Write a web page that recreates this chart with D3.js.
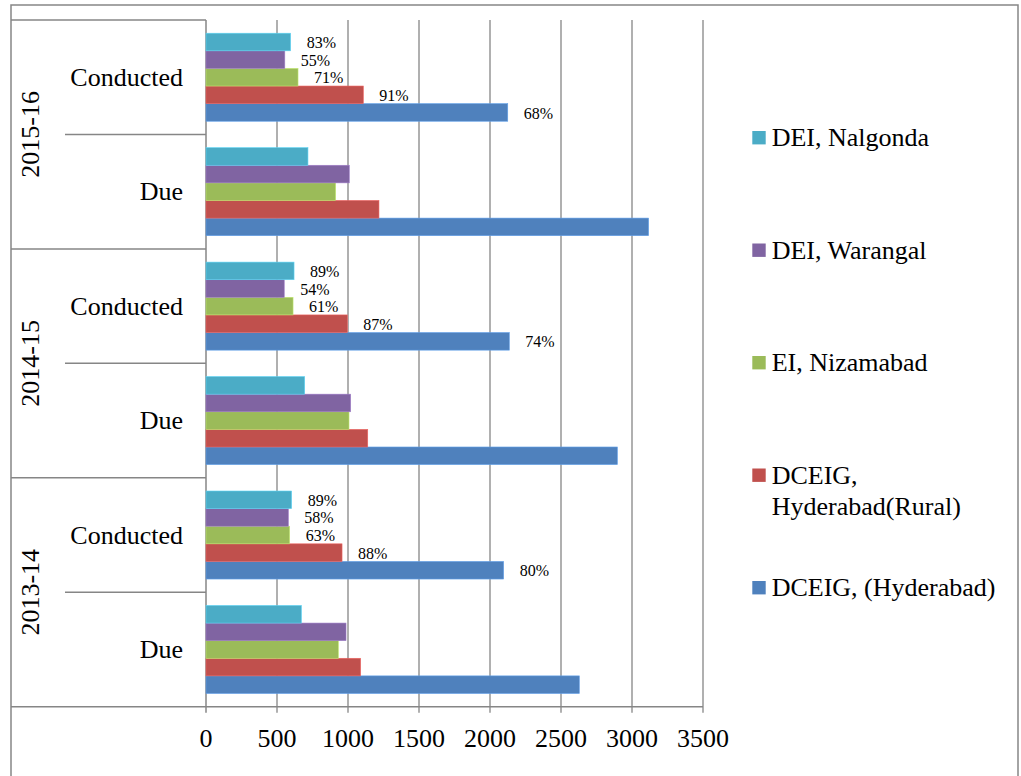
<!DOCTYPE html>
<html>
<head>
<meta charset="utf-8">
<script src="https://cdn.jsdelivr.net/npm/d3@7"></script>
<style>
  html, body { margin: 0; padding: 0; background: #fff; }
  svg { display: block; }
</style>
</head>
<body>
<svg id="chart" width="1021" height="776"></svg>
<script>
// ---- Data ----
const years = ["2013-14", "2014-15", "2015-16"];
const types = ["Due", "Conducted"];
// categories in order (bottom to top as drawn)
const categories = ["2013-14|Due", "2013-14|Conducted", "2014-15|Due", "2014-15|Conducted", "2015-16|Due", "2015-16|Conducted"];
const seriesNames = ["DCEIG, (Hyderabad)", "DCEIG, Hyderabad(Rural)", "EI, Nizamabad", "DEI, Warangal", "DEI, Nalgonda"];
const seriesColors = ["#4F81BD", "#C0504D", "#9BBB59", "#8064A2", "#4BACC6"];
const hyderabad = [2629, 2096, 2897, 2136, 3117, 2125];
const rural     = [1089,  958, 1139,  995, 1218, 1108];
const nizamabad = [ 932,  589, 1007,  613,  913,  648];
const warangal  = [ 986,  580, 1019,  551, 1009,  555];
const nalgonda  = [ 672,  603,  695,  620,  718,  596];
const seriesValues = [hyderabad, rural, nizamabad, warangal, nalgonda];
// percentage labels for the "Conducted" categories
const hyderabadPct = ["", "80%", "", "74%", "", "68%"];
const ruralPct     = ["", "88%", "", "87%", "", "91%"];
const nizamabadPct = ["", "63%", "", "61%", "", "71%"];
const warangalPct  = ["", "58%", "", "54%", "", "55%"];
const nalgondaPct  = ["", "89%", "", "89%", "", "83%"];
const seriesPct = [hyderabadPct, ruralPct, nizamabadPct, warangalPct, nalgondaPct];
const xTicks = [0, 500, 1000, 1500, 2000, 2500, 3000, 3500];

// ---- Layout ----
const FONT = "Liberation Serif";
const svg = d3.select("#chart");
const plotTop = 20, plotBottom = 706.7;
const x0 = 206, x1 = 703;
const boxLeft = 11;
const gridColor = "#868686";

const x = d3.scaleLinear().domain([0, 3500]).range([x0, x1]);
// categories drawn bottom to top
const y = d3.scaleBand().domain(categories).range([plotBottom, plotTop]).padding(0);
const groupH = y.bandwidth() * (5 / 6.5);
const ySeries = d3.scaleBand().domain(d3.range(5).map(String)).range([0, groupH]).padding(0);

// outer border
svg.append("rect")
  .attr("x", boxLeft).attr("y", 5)
  .attr("width", 1018 - boxLeft).attr("height", 800)
  .attr("fill", "none").attr("stroke", gridColor).attr("stroke-width", 1.5);

// gridlines + ticks
svg.append("g").selectAll("line").data(xTicks.slice(1)).join("line")
  .attr("x1", d => x(d)).attr("x2", d => x(d))
  .attr("y1", plotTop).attr("y2", plotBottom + 6)
  .attr("stroke", gridColor).attr("stroke-width", 1.3);

// x tick labels
svg.append("g").selectAll("text").data(xTicks).join("text")
  .attr("x", d => x(d)).attr("y", 747)
  .attr("text-anchor", "middle")
  .style("font-family", FONT)
  .style("font-size", "26px")
  .text(d => d);

// category label box
const boxG = svg.append("g").attr("stroke", gridColor).attr("stroke-width", 1.5);
boxG.append("line").attr("x1", boxLeft).attr("x2", x0).attr("y1", plotTop).attr("y2", plotTop);
boxG.append("line").attr("x1", boxLeft).attr("x2", x1).attr("y1", plotBottom).attr("y2", plotBottom);
// year dividers (top edge of the lower two year groups)
years.slice(0, 2).forEach(yr => {
  const yy = y(yr + "|Conducted");
  boxG.append("line").attr("x1", boxLeft).attr("x2", x0).attr("y1", yy).attr("y2", yy);
});
// type dividers within a year
years.forEach(yr => {
  const yy = y(yr + "|Due");
  boxG.append("line").attr("x1", 65).attr("x2", x0).attr("y1", yy).attr("y2", yy);
});
// vertical axis
boxG.append("line").attr("x1", x0).attr("x2", x0).attr("y1", plotTop).attr("y2", plotBottom + 6);

// category labels
svg.append("g").selectAll("text").data(categories).join("text")
  .attr("x", 183)
  .attr("y", d => y(d) + y.bandwidth() / 2)
  .attr("dy", "0.33em")
  .attr("text-anchor", "end")
  .style("font-family", FONT)
  .style("font-size", "26px")
  .text(d => d.split("|")[1]);

// year labels (rotated)
svg.append("g").selectAll("text").data(years).join("text")
  .attr("transform", d => {
    const cy = (y(d + "|Conducted") + y(d + "|Due") + y.bandwidth()) / 2;
    return `translate(38.5,${cy}) rotate(-90)`;
  })
  .attr("text-anchor", "middle")
  .style("font-family", FONT)
  .style("font-size", "26px")
  .text(d => d);

// bars
// within a group: Nalgonda (index 4) on top, Hyderabad (0) at bottom
const barsG = svg.append("g");
seriesValues.forEach((vals, si) => {
  const slot = String(4 - si);
  barsG.append("g").selectAll("rect").data(categories).join("rect")
    .attr("x", x(0))
    .attr("y", (c) => y(c) + (y.bandwidth() - groupH) / 2 + ySeries(slot))
    .attr("width", (c, i) => x(vals[i]) - x(0))
    .attr("height", ySeries.bandwidth())
    .attr("fill", seriesColors[si])
    .attr("stroke", d3.color(seriesColors[si]).brighter(0.6))
    .attr("stroke-width", 0.6);
  barsG.append("g").selectAll("text").data(categories).join("text")
    .attr("x", (c, i) => x(vals[i]) + 16)
    .attr("y", (c) => y(c) + (y.bandwidth() - groupH) / 2 + ySeries(slot) + ySeries.bandwidth() / 2)
    .attr("dy", "0.38em")
    .style("font-family", FONT)
    .style("font-size", "16px")
    .text((c, i) => seriesPct[si][i]);
});

// legend (top to bottom: reverse series order)
const legendOrder = [4, 3, 2, 1, 0];
const legendLines = {
  0: ["DCEIG, (Hyderabad)"],
  1: ["DCEIG,", "Hyderabad(Rural)"],
  2: ["EI, Nizamabad"],
  3: ["DEI, Warangal"],
  4: ["DEI, Nalgonda"]
};
const legendY = d3.scalePoint().domain(legendOrder.map(String)).range([137.7, 587.7]);
const lg = svg.append("g");
legendOrder.forEach(si => {
  const cy = legendY(String(si));
  lg.append("rect")
    .attr("x", 752.3).attr("y", cy - 6.7)
    .attr("width", 13.4).attr("height", 13.4)
    .attr("fill", seriesColors[si]);
  const t = lg.append("text")
    .attr("x", 771.7).attr("y", cy + 8.3)
    .style("font-family", FONT)
    .style("font-size", "26px");
  legendLines[si].forEach((ln, k) => {
    t.append("tspan").attr("x", 771.7).attr("dy", k === 0 ? 0 : 31).text(ln);
  });
});
</script>
</body>
</html>
